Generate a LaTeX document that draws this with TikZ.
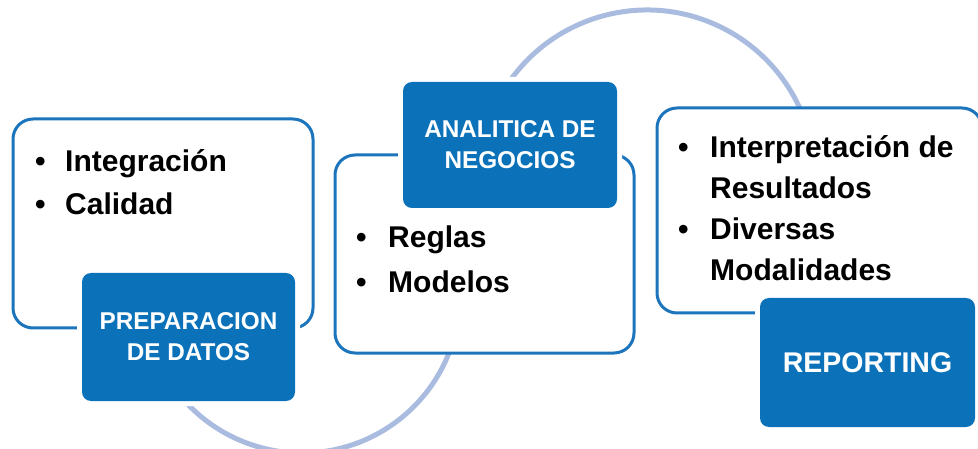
\documentclass[tikz,border=0pt]{standalone}
\usepackage{fontspec}
\setmainfont{Liberation Sans}
\definecolor{boxblue}{HTML}{0B72BA}
\definecolor{lineblue}{HTML}{1C75BC}
\definecolor{arcblue}{HTML}{A9BCE0}
\begin{document}
\begin{tikzpicture}[x=1pt,y=-1pt,
  outline/.style={draw=lineblue, line width=3, fill=white, rounded corners=20, inner sep=0},
  bluebox/.style={fill=boxblue, rounded corners=9, inner sep=0, text=white, align=center,
     font=\bfseries\fontsize{24.3}{31}\selectfont,
     preaction={draw=white, line width=10, rounded corners=9}},
  arcline/.style={draw=arcblue, line width=5},
  itemtext/.style={anchor=base west, inner sep=0, font=\bfseries}
]
\useasboundingbox (0,0) rectangle (978,449);
% arcs
\draw[arcline] (302,295) ++(150:158) arc[start angle=150, end angle=15, radius=158];
\draw[arcline] (647,178) ++(205:168) arc[start angle=205, end angle=340, radius=168];
% outline boxes
\node[outline, minimum width=300, minimum height=209] (b1) at (163,223.5) {};
\node[outline, minimum width=299, minimum height=198] (b2) at (484.5,254) {};
\node[outline, minimum width=325, minimum height=205] (b3) at (819.5,210.5) {};
% blue boxes
\node[bluebox, minimum width=213, minimum height=128] (p1) at (188.5,337) {PREPARACION\\DE DATOS};
\node[bluebox, minimum width=214, minimum height=126] (p2) at (510,145) {ANALITICA DE\\NEGOCIOS};
\node[bluebox, minimum width=215, minimum height=129, font=\bfseries\fontsize{28.5}{34}\selectfont] (p3) at (867.5,362.5) {REPORTING};
% item texts
\node[itemtext] (t1) at (35,172) {\fontsize{30}{43}\selectfont
  \begin{tabular}[t]{@{}l@{}l@{}}\makebox[30pt][l]{\textbullet} & Integración\\
  \textbullet & Calidad\end{tabular}};
\node[itemtext] (t2) at (356,248) {\fontsize{30}{45}\selectfont
  \begin{tabular}[t]{@{}l@{}l@{}}\makebox[32pt][l]{\textbullet} & Reglas\\
  \textbullet & Modelos\end{tabular}};
\node[itemtext] (t3) at (678,158) {\fontsize{30}{40.7}\selectfont
  \begin{tabular}[t]{@{}l@{}l@{}}\makebox[32pt][l]{\textbullet} & Interpretación de\\
  & Resultados\\
  \textbullet & Diversas\\
  & Modalidades\end{tabular}};
\end{tikzpicture}
\end{document}
